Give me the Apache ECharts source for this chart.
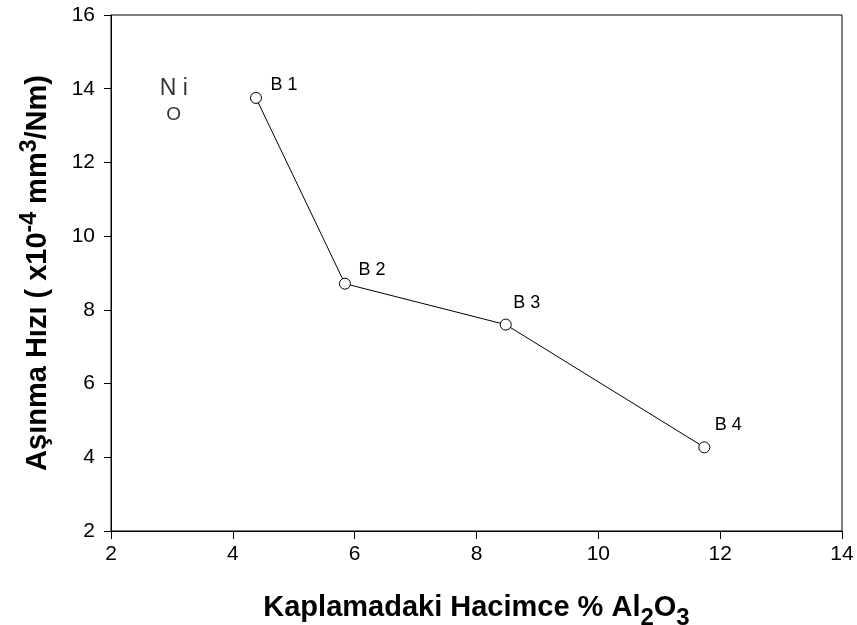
<!DOCTYPE html>
<html><head><meta charset="utf-8">
<script src="https://cdn.jsdelivr.net/npm/echarts@6/dist/echarts.min.js"></script>
<style>html,body{margin:0;padding:0;background:#fff}#c{width:857px;height:625px}</style>
</head><body><div id="c"></div>
<script>
const pointNames = ['B 1', 'B 2', 'B 3', 'B 4'];
const alumina = [4.38, 5.84, 8.48, 11.74];
const wearRate = [13.75, 8.71, 7.60, 4.27];
const labelOffsets = [[28, -13], [27, -14], [21, -22], [24, -22]];
const niPoint = [3.03, 13.3];
const xTicks = [2, 14, 2];
const yTicks = [2, 16, 2];

const chart = echarts.init(document.getElementById('c'));
const font = '"Liberation Sans", Arial, sans-serif';
chart.setOption({
  animation: false,
  grid: {left: 111, right: 15, top: 15, bottom: 94, show: true, borderColor: '#000', borderWidth: 1, outerBoundsMode: 'none', containLabel: false},
  xAxis: {
    type: 'value', min: xTicks[0], max: xTicks[1], interval: xTicks[2],
    axisLine: {show: true, lineStyle: {color: '#000', width: 1}},
    axisTick: {show: true, length: 8, lineStyle: {color: '#000'}},
    splitLine: {show: false},
    axisLabel: {color: '#000', fontFamily: font, fontSize: 21, margin: 13},
    name: '{a|Kaplamadaki Hacimce % Al}{s|2}{a|O}{s|3}',
    nameLocation: 'middle', nameGap: 57,
    nameTextStyle: {
      rich: {
        a: {fontFamily: font, fontWeight: 'bold', fontSize: 29, color: '#000', lineHeight: 34, verticalAlign: 'bottom'},
        s: {fontFamily: font, fontWeight: 'bold', fontSize: 24, color: '#000', lineHeight: 34, verticalAlign: 'bottom', padding: [0, 0, -8, 0]}
      }
    }
  },
  yAxis: {
    type: 'value', min: yTicks[0], max: yTicks[1], interval: yTicks[2],
    axisLine: {show: true, lineStyle: {color: '#000', width: 1}},
    axisTick: {show: true, length: 7, lineStyle: {color: '#000'}},
    splitLine: {show: false},
    axisLabel: {color: '#000', fontFamily: font, fontSize: 21, margin: 16},
    name: '{a|Aşınma Hızı ( x10}{p|-4}{a| mm}{p|3}{a|/Nm)}',
    nameLocation: 'middle', nameGap: 59, nameRotate: 90,
    nameTextStyle: {
      rich: {
        a: {fontFamily: font, fontWeight: 'bold', fontSize: 29, color: '#000', lineHeight: 34, verticalAlign: 'bottom'},
        p: {fontFamily: font, fontWeight: 'bold', fontSize: 23, color: '#000', lineHeight: 34, verticalAlign: 'top', padding: [0, 0, 10, 0]}
      }
    }
  },
  series: [
    {
      type: 'line',
      data: alumina.map((x, i) => ({
        value: [x, wearRate[i]],
        label: {show: true, formatter: pointNames[i], position: 'inside', offset: labelOffsets[i]}
      })),
      symbol: 'circle', symbolSize: 11,
      itemStyle: {color: '#fff', borderColor: '#000', borderWidth: 1},
      lineStyle: {color: '#000', width: 1},
      label: {color: '#000', fontFamily: font, fontSize: 18}
    },
    {
      type: 'scatter',
      data: [{value: niPoint}],
      symbolSize: 0,
      label: {
        show: true, position: 'inside',
        formatter: '{n|N i}\n{o|O}',
        rich: {
          n: {fontFamily: font, fontSize: 23, color: '#000', lineHeight: 26},
          o: {fontFamily: font, fontSize: 19, color: '#000', lineHeight: 26}
        },
        offset: [0, -13]
      }
    }
  ]
});
</script></body></html>
